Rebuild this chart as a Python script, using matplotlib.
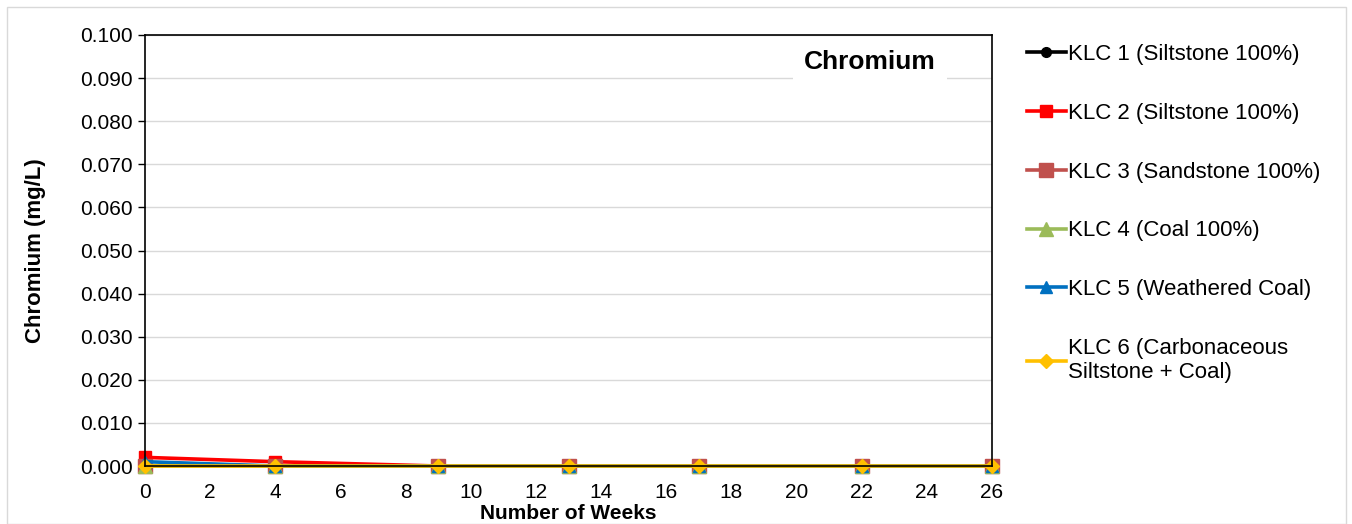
import matplotlib.pyplot as plt
from matplotlib.patches import Rectangle
import numpy as np

plt.rcParams["font.family"] = ["Liberation Sans", "DejaVu Sans"]

weeks = [0, 4, 9, 13, 17, 22, 26]
series_names = [
    "KLC 1 (Siltstone 100%)",
    "KLC 2 (Siltstone 100%)",
    "KLC 3 (Sandstone 100%)",
    "KLC 4 (Coal 100%)",
    "KLC 5 (Weathered Coal)",
    "KLC 6 (Carbonaceous\nSiltstone + Coal)",
]
klc1 = [0.0, 0.0, 0.0, 0.0, 0.0, 0.0, 0.0]
klc2 = [0.002, 0.001, 0.0, 0.0, 0.0, 0.0, 0.0]
klc3 = [0.0, 0.0, 0.0, 0.0, 0.0, 0.0, 0.0]
klc4 = [0.0, 0.0, 0.0, 0.0, 0.0, 0.0, 0.0]
klc5 = [0.001, 0.0, 0.0, 0.0, 0.0, 0.0, 0.0]
klc6 = [0.0, 0.0, 0.0, 0.0, 0.0, 0.0, 0.0]

colors = ["#000000", "#FF0000", "#C0504D", "#9BBB59", "#0070C0", "#FFC000"]
markers = ["o", "s", "s", "^", "^", "D"]
msizes = [7, 9, 10, 10, 8, 7]

W, H = 1352, 524
fig = plt.figure(figsize=(W / 100, H / 100), dpi=100)
fig.patches.append(Rectangle((7 / W, 0), (1346 - 7) / W, (H - 7) / H,
                             transform=fig.transFigure, fill=False,
                             edgecolor="#D9D9D9", linewidth=1))
ax = fig.add_axes([145 / W, 1 - 466 / H, (992 - 145) / W, (466 - 35) / H])

for vals, name, c, m, ms in zip([klc1, klc2, klc3, klc4, klc5, klc6],
                                series_names, colors, markers, msizes):
    ax.plot(weeks, vals, color=c, marker=m, markersize=ms, linewidth=2.6,
            label=name, clip_on=False)

ax.set_xlim(0, 26)
ax.set_ylim(0, 0.1)
ax.set_xticks(np.arange(0, 27, 2))
ax.set_yticks(np.arange(0, 0.1001, 0.01))
ax.yaxis.set_major_formatter(plt.FuncFormatter(lambda v, p: f"{v:.3f}"))
ax.tick_params(labelsize=15, length=5, direction="out", width=1, pad=4)
ax.tick_params(axis="x", length=0, pad=12)
ax.yaxis.grid(True, color="#D9D9D9", linewidth=1)
ax.set_axisbelow(True)
for s in ax.spines.values():
    s.set_color("black")
    s.set_linewidth(1.2)

ax.set_xlabel("Number of Weeks", fontsize=15, fontweight="bold", labelpad=2)
ax.set_ylabel("Chromium (mg/L)", fontsize=16, fontweight="bold", labelpad=24)

ax.text(936 / W, 1 - 62 / H, "Chromium", transform=fig.transFigure, ha="right",
        va="center", fontsize=19, fontweight="bold", zorder=5,
        bbox=dict(facecolor="white", edgecolor="none", pad=8))

fig.legend(loc="upper left", bbox_to_anchor=(1027 / W, 1 - 44 / H),
           frameon=False, fontsize=16, handlelength=1.75, handletextpad=0.1,
           labelspacing=1.7, borderaxespad=0, borderpad=0)

fig.savefig("out.png", dpi=100, facecolor="white")
